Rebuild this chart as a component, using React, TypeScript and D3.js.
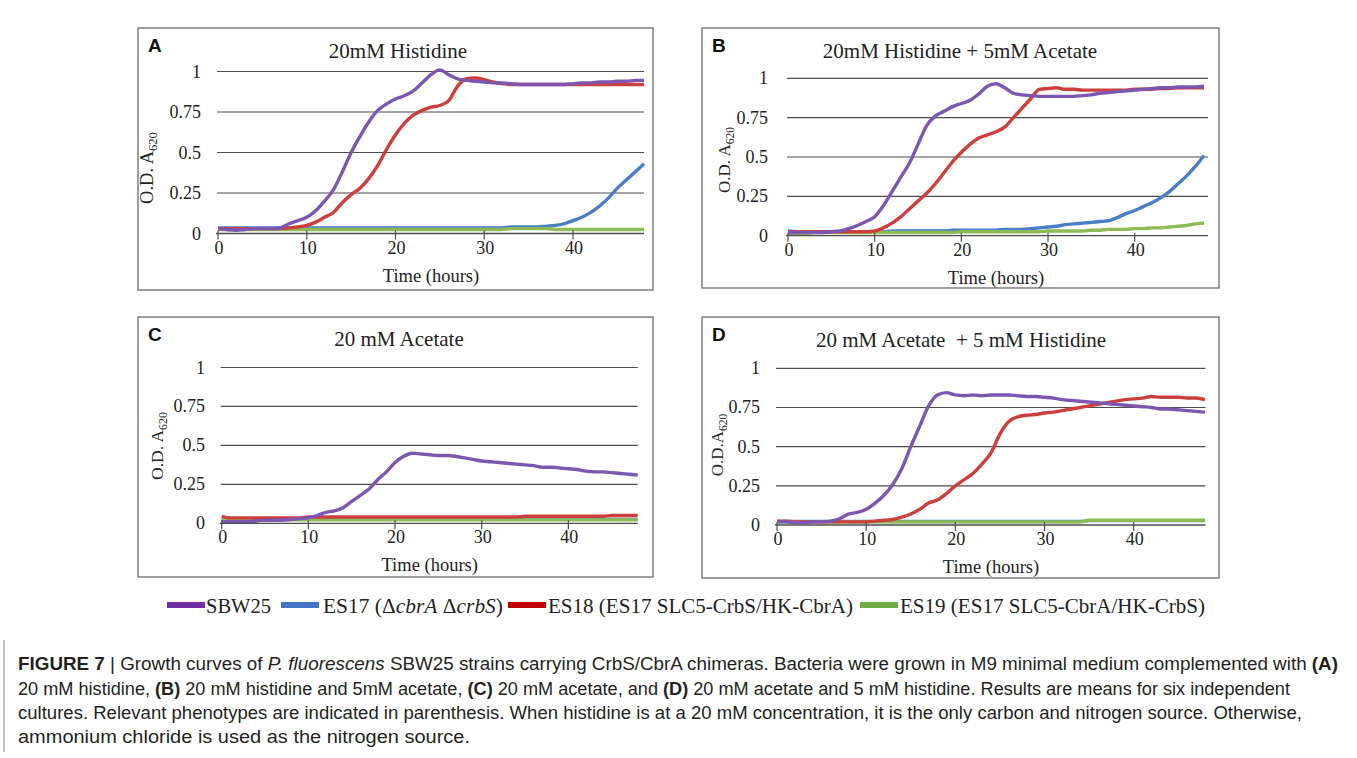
import React from 'react';
import * as d3 from 'd3';

// time axis (hours) shared by every panel
const hours = [
  0, 1, 2, 3, 4, 5, 6, 7, 8, 9,
  10, 11, 12, 13, 14, 15, 16, 17, 18, 19,
  20, 21, 22, 23, 24, 25, 26, 27, 28, 29,
  30, 31, 32, 33, 34, 35, 36, 37, 38, 39,
  40, 41, 42, 43, 44, 45, 46, 47, 48,
];
const yTicks = [0, 0.25, 0.5, 0.75, 1];
const xTicks = [0, 10, 20, 30, 40];

const drawOrder = ['ES17', 'ES19', 'ES18', 'SBW25'];
const lineColors: Record<string, string> = { SBW25: '#7b57b1', ES17: '#4a7fc7', ES18: '#cd3f3c', ES19: '#8dbb55' };
const legendColors: Record<string, string> = { SBW25: '#7030a0', ES17: '#4472c4', ES18: '#c00000', ES19: '#70ad47' };

// A: 20mM Histidine
const aSBW25 = [
  0.03, 0.025, 0.02, 0.025, 0.03, 0.03, 0.03, 0.035, 0.06, 0.08,
  0.10, 0.14, 0.20, 0.27, 0.38, 0.50, 0.60, 0.69, 0.76, 0.80,
  0.83, 0.85, 0.88, 0.93, 0.98, 1.01, 0.98, 0.955, 0.945, 0.94,
  0.935, 0.93, 0.93, 0.925, 0.92, 0.92, 0.92, 0.92, 0.92, 0.92,
  0.925, 0.93, 0.93, 0.935, 0.935, 0.94, 0.94, 0.945, 0.945,
];
const aES17 = [
  0.035, 0.035, 0.035, 0.035, 0.035, 0.035, 0.035, 0.035, 0.035, 0.035,
  0.035, 0.035, 0.035, 0.035, 0.035, 0.035, 0.035, 0.035, 0.035, 0.035,
  0.035, 0.035, 0.035, 0.035, 0.035, 0.035, 0.035, 0.035, 0.035, 0.035,
  0.035, 0.035, 0.035, 0.04, 0.04, 0.04, 0.04, 0.045, 0.05, 0.06,
  0.08, 0.10, 0.13, 0.17, 0.22, 0.28, 0.33, 0.38, 0.43,
];
const aES18 = [
  0.03, 0.03, 0.03, 0.03, 0.03, 0.03, 0.03, 0.03, 0.035, 0.04,
  0.05, 0.07, 0.10, 0.13, 0.19, 0.24, 0.28, 0.34, 0.42, 0.52,
  0.61, 0.68, 0.73, 0.76, 0.78, 0.79, 0.82, 0.91, 0.955, 0.96,
  0.95, 0.935, 0.925, 0.92, 0.92, 0.92, 0.92, 0.92, 0.92, 0.92,
  0.92, 0.92, 0.92, 0.92, 0.92, 0.92, 0.92, 0.92, 0.92,
];
const aES19 = [
  0.025, 0.025, 0.025, 0.025, 0.025, 0.025, 0.025, 0.025, 0.025, 0.025,
  0.025, 0.025, 0.025, 0.025, 0.025, 0.025, 0.025, 0.025, 0.025, 0.025,
  0.025, 0.025, 0.025, 0.025, 0.025, 0.025, 0.025, 0.025, 0.025, 0.025,
  0.025, 0.025, 0.025, 0.03, 0.03, 0.03, 0.03, 0.03, 0.025, 0.025,
  0.025, 0.025, 0.025, 0.025, 0.025, 0.025, 0.025, 0.025, 0.025,
];

// B: 20mM Histidine + 5mM Acetate
const bSBW25 = [
  0.02, 0.02, 0.02, 0.02, 0.02, 0.025, 0.03, 0.045, 0.065, 0.09,
  0.12, 0.19, 0.28, 0.37, 0.46, 0.58, 0.70, 0.76, 0.79, 0.82,
  0.84, 0.86, 0.90, 0.95, 0.965, 0.94, 0.905, 0.895, 0.89, 0.885,
  0.885, 0.885, 0.885, 0.885, 0.89, 0.895, 0.905, 0.91, 0.915, 0.92,
  0.925, 0.93, 0.935, 0.94, 0.94, 0.945, 0.945, 0.945, 0.95,
];
const bES17 = [
  0.03, 0.025, 0.025, 0.025, 0.025, 0.025, 0.025, 0.025, 0.025, 0.025,
  0.025, 0.025, 0.03, 0.03, 0.03, 0.03, 0.03, 0.03, 0.03, 0.035,
  0.035, 0.035, 0.035, 0.035, 0.035, 0.04, 0.04, 0.04, 0.045, 0.05,
  0.055, 0.06, 0.07, 0.075, 0.08, 0.085, 0.09, 0.095, 0.115, 0.14,
  0.16, 0.185, 0.21, 0.24, 0.28, 0.33, 0.38, 0.44, 0.51,
];
const bES18 = [
  0.025, 0.025, 0.025, 0.025, 0.025, 0.025, 0.025, 0.025, 0.025, 0.025,
  0.03, 0.05, 0.08, 0.12, 0.17, 0.22, 0.27, 0.33, 0.40, 0.47,
  0.53, 0.58, 0.62, 0.64, 0.66, 0.69, 0.75, 0.81, 0.87, 0.93,
  0.935, 0.94, 0.93, 0.93, 0.925, 0.925, 0.925, 0.925, 0.925, 0.925,
  0.93, 0.93, 0.93, 0.935, 0.935, 0.94, 0.94, 0.94, 0.94,
];
const bES19 = [
  0.015, 0.015, 0.015, 0.02, 0.02, 0.02, 0.02, 0.02, 0.02, 0.02,
  0.02, 0.02, 0.02, 0.02, 0.02, 0.02, 0.02, 0.02, 0.02, 0.02,
  0.025, 0.025, 0.025, 0.025, 0.025, 0.025, 0.025, 0.025, 0.025, 0.025,
  0.03, 0.03, 0.03, 0.03, 0.03, 0.035, 0.035, 0.04, 0.04, 0.04,
  0.045, 0.045, 0.05, 0.05, 0.055, 0.06, 0.065, 0.075, 0.08,
];

// C: 20 mM Acetate
const cSBW25 = [
  0.01, 0.01, 0.01, 0.01, 0.015, 0.02, 0.02, 0.02, 0.025, 0.03,
  0.035, 0.05, 0.07, 0.08, 0.10, 0.14, 0.18, 0.22, 0.28, 0.33,
  0.39, 0.43, 0.45, 0.445, 0.44, 0.435, 0.435, 0.43, 0.42, 0.41,
  0.40, 0.395, 0.39, 0.385, 0.38, 0.375, 0.37, 0.36, 0.36, 0.355,
  0.35, 0.345, 0.335, 0.33, 0.33, 0.325, 0.32, 0.315, 0.31,
];
const cES17 = [
  0.025, 0.025, 0.025, 0.025, 0.025, 0.025, 0.025, 0.025, 0.025, 0.025,
  0.025, 0.025, 0.025, 0.025, 0.025, 0.025, 0.025, 0.025, 0.025, 0.025,
  0.025, 0.025, 0.025, 0.025, 0.025, 0.025, 0.025, 0.025, 0.025, 0.025,
  0.025, 0.025, 0.025, 0.025, 0.025, 0.025, 0.025, 0.025, 0.025, 0.025,
  0.025, 0.025, 0.025, 0.025, 0.025, 0.025, 0.025, 0.025, 0.025,
];
const cES18 = [
  0.045, 0.035, 0.035, 0.035, 0.035, 0.035, 0.035, 0.035, 0.035, 0.035,
  0.04, 0.04, 0.04, 0.04, 0.04, 0.04, 0.04, 0.04, 0.04, 0.04,
  0.04, 0.04, 0.04, 0.04, 0.04, 0.04, 0.04, 0.04, 0.04, 0.04,
  0.04, 0.04, 0.04, 0.04, 0.04, 0.045, 0.045, 0.045, 0.045, 0.045,
  0.045, 0.045, 0.045, 0.045, 0.045, 0.05, 0.05, 0.05, 0.05,
];
const cES19 = [
  0.022, 0.022, 0.022, 0.022, 0.022, 0.022, 0.022, 0.022, 0.022, 0.022,
  0.022, 0.022, 0.022, 0.022, 0.022, 0.022, 0.022, 0.022, 0.022, 0.022,
  0.022, 0.022, 0.022, 0.022, 0.022, 0.022, 0.022, 0.022, 0.022, 0.022,
  0.022, 0.022, 0.022, 0.022, 0.022, 0.022, 0.022, 0.022, 0.022, 0.022,
  0.022, 0.022, 0.022, 0.022, 0.022, 0.022, 0.022, 0.022, 0.022,
];

// D: 20 mM Acetate + 5 mM Histidine
const dSBW25 = [
  0.02, 0.02, 0.015, 0.015, 0.02, 0.02, 0.025, 0.04, 0.07, 0.08,
  0.10, 0.14, 0.19, 0.26, 0.36, 0.50, 0.63, 0.76, 0.83, 0.845,
  0.83, 0.825, 0.83, 0.825, 0.83, 0.83, 0.83, 0.825, 0.82, 0.82,
  0.815, 0.81, 0.80, 0.795, 0.79, 0.785, 0.78, 0.775, 0.77, 0.765,
  0.76, 0.755, 0.75, 0.74, 0.74, 0.735, 0.73, 0.725, 0.72,
];
const dES17 = [
  0.022, 0.022, 0.022, 0.022, 0.022, 0.022, 0.022, 0.022, 0.022, 0.022,
  0.022, 0.022, 0.022, 0.022, 0.022, 0.022, 0.022, 0.022, 0.022, 0.022,
  0.022, 0.022, 0.022, 0.022, 0.022, 0.022, 0.022, 0.022, 0.022, 0.022,
  0.022, 0.022, 0.022, 0.022, 0.022, 0.028, 0.028, 0.028, 0.028, 0.028,
  0.028, 0.028, 0.028, 0.028, 0.028, 0.028, 0.028, 0.028, 0.028,
];
const dES18 = [
  0.025, 0.025, 0.02, 0.02, 0.02, 0.02, 0.02, 0.02, 0.02, 0.02,
  0.02, 0.025, 0.03, 0.035, 0.05, 0.07, 0.10, 0.14, 0.16, 0.20,
  0.25, 0.29, 0.33, 0.39, 0.46, 0.58, 0.66, 0.69, 0.70, 0.705,
  0.715, 0.72, 0.73, 0.74, 0.75, 0.76, 0.77, 0.78, 0.79, 0.80,
  0.805, 0.81, 0.82, 0.815, 0.815, 0.815, 0.81, 0.81, 0.80,
];
const dES19 = [
  0.02, 0.02, 0.02, 0.02, 0.02, 0.02, 0.02, 0.02, 0.02, 0.02,
  0.02, 0.02, 0.02, 0.02, 0.02, 0.02, 0.02, 0.02, 0.02, 0.02,
  0.02, 0.02, 0.02, 0.02, 0.02, 0.02, 0.02, 0.02, 0.02, 0.02,
  0.02, 0.02, 0.02, 0.02, 0.02, 0.03, 0.03, 0.03, 0.03, 0.03,
  0.03, 0.03, 0.03, 0.03, 0.03, 0.03, 0.03, 0.03, 0.03,
];

// panel layout (pixels)
const panels = [
  {
    letter: 'A', title: '20mM Histidine', yTitle: 'O.D. A',
    series: { SBW25: aSBW25, ES17: aES17, ES18: aES18, ES19: aES19 },
    box: [138, 28, 653, 290], x0: 218, x1: 644, gridEnd: 644, yTop: 71.5, yBot: 233.5,
    titleX: 398, titleY: 58, labelRight: 201,
    yTitleX: 153, yTitleY: 168, yTitleSize: 18.5,
  },
  {
    letter: 'B', title: '20mM Histidine + 5mM Acetate', yTitle: 'O.D. A',
    series: { SBW25: bSBW25, ES17: bES17, ES18: bES18, ES19: bES19 },
    box: [702, 28, 1219, 288], x0: 788, x1: 1204, gridEnd: 1208, yTop: 78.3, yBot: 235.7,
    titleX: 960, titleY: 58, labelRight: 768,
    yTitleX: 730, yTitleY: 160, yTitleSize: 17,
  },
  {
    letter: 'C', title: '20 mM Acetate', yTitle: 'O.D. A',
    series: { SBW25: cSBW25, ES17: cES17, ES18: cES18, ES19: cES19 },
    box: [138, 317, 653, 577], x0: 221.7, x1: 637.7, gridEnd: 637.7, yTop: 367.5, yBot: 523.3,
    titleX: 399, titleY: 346, labelRight: 205,
    yTitleX: 163, yTitleY: 446, yTitleSize: 17.5,
  },
  {
    letter: 'D', title: '20 mM Acetate  + 5 mM Histidine', yTitle: 'O.D.A',
    series: { SBW25: dSBW25, ES17: dES17, ES18: dES18, ES19: dES19 },
    box: [702, 317, 1219, 578], x0: 777, x1: 1205, gridEnd: 1205.5, yTop: 368.3, yBot: 525,
    titleX: 961, titleY: 347, labelRight: 760,
    yTitleX: 723, yTitleY: 445, yTitleSize: 17,
  },
];

const serif = '"Liberation Serif", "Times New Roman", serif';
const sans = '"Liberation Sans", Arial, sans-serif';
const narrow = '"Liberation Sans Narrow", "Arial Narrow", "Liberation Sans", Arial, sans-serif';
const ink = '#222';

function Panel({ p }: { p: any }) {
  const x = d3.scaleLinear().domain([0, 48]).range([p.x0, p.x1]);
  const y = d3.scaleLinear().domain([0, 1]).range([p.yBot, p.yTop]);
  const line = d3.line<number>()
    .x((d, i) => x(hours[i]))
    .y((d) => y(d))
    .curve(d3.curveMonotoneX);
  const [bx0, by0, bx1, by1] = p.box;
  return (
    <g>
      <rect x={bx0} y={by0} width={bx1 - bx0} height={by1 - by0} fill="#fff" stroke="#6b6b6b" strokeWidth={1.3} />
      <text x={bx0 + 10} y={by0 + 24} fontFamily={sans} fontWeight="bold" fontSize={19} fill="#111">{p.letter}</text>
      <text x={p.titleX} y={p.titleY} textAnchor="middle" fontFamily={serif} fontSize={21} fill={ink} style={{ whiteSpace: 'pre' }}>{p.title}</text>
      {yTicks.map((t) => (
        <g key={t}>
          {t > 0 && <line x1={p.x0 - 1} x2={p.gridEnd} y1={y(t)} y2={y(t)} stroke="#4d4d4d" strokeWidth={1.2} />}
          <text x={p.labelRight} y={y(t) + 6} textAnchor="end" fontFamily={serif} fontSize={18} fill={ink}>{t}</text>
        </g>
      ))}
      {drawOrder.map((s) => (
        <path key={s} d={line(p.series[s]) || ''} fill="none" stroke={lineColors[s]} strokeWidth={3.4} strokeLinejoin="round" />
      ))}
      <line x1={p.x0 - 2} x2={p.gridEnd} y1={y(0)} y2={y(0)} stroke="#4d4d4d" strokeWidth={1.3} />
      {xTicks.map((t) => (
        <g key={t}>
          <line x1={x(t)} x2={x(t)} y1={y(0) - 3} y2={y(0) + 6} stroke="#4d4d4d" strokeWidth={1.2} />
          <text x={x(t) + 1} y={y(0) + 20} textAnchor="middle" fontFamily={serif} fontSize={18} fill={ink}>{t}</text>
        </g>
      ))}
      <text x={(p.x0 + p.x1) / 2} y={y(0) + 48} textAnchor="middle" fontFamily={serif} fontSize={18.5} fill={ink}>Time (hours)</text>
      <text transform={`translate(${p.yTitleX},${p.yTitleY}) rotate(-90)`} textAnchor="middle" fontFamily={serif} fontSize={p.yTitleSize} fill={ink}>
        {p.yTitle}<tspan fontSize={p.yTitleSize * 0.68} dy={4}>620</tspan>
      </text>
    </g>
  );
}

const legendItems = [
  { key: 'SBW25', sx: 167, tx: 206, tw: 65 },
  { key: 'ES17', sx: 281, tx: 323, tw: 180 },
  { key: 'ES18', sx: 508, tx: 548, tw: 305 },
  { key: 'ES19', sx: 860, tx: 900, tw: 305 },
];

function LegendLabel({ k }: { k: string }) {
  if (k === 'SBW25') return <>SBW25</>;
  if (k === 'ES17') return <>ES17 (Δ<tspan fontStyle="italic">cbrA</tspan> Δ<tspan fontStyle="italic">crbS</tspan>)</>;
  if (k === 'ES18') return <>ES18 (ES17 SLC5-CrbS/HK-CbrA)</>;
  return <>ES19 (ES17 SLC5-CbrA/HK-CrbS)</>;
}

const captionLines = [
  { w: 1320, y: 670 },
  { w: 1272, y: 695 },
  { w: 1284, y: 719 },
  { w: 452, y: 743 },
];

export default function App() {
  return (
    <div style={{ position: 'fixed', left: 0, top: 0 }}>
      <svg width={1357} height={758} style={{ display: 'block', background: '#fff' }}>
        {panels.map((p) => <Panel key={p.letter} p={p} />)}

        {legendItems.map((it) => (
          <g key={it.key}>
            <rect x={it.sx} y={602} width={38} height={6} fill={legendColors[it.key]} />
            <text x={it.tx} y={613} fontFamily={serif} fontSize={21} fill={ink} textLength={it.tw} lengthAdjust="spacingAndGlyphs">
              <LegendLabel k={it.key} />
            </text>
          </g>
        ))}

        <line x1={4} x2={4} y1={640} y2={752} stroke="#9a9a9a" strokeWidth={1.2} />
        <g fontFamily={narrow} fontSize={17.5} fill="#231f20">
          <text x={18} y={captionLines[0].y} textLength={captionLines[0].w} lengthAdjust="spacingAndGlyphs">
            <tspan fontWeight="bold">FIGURE 7</tspan> | Growth curves of <tspan fontStyle="italic">P. fluorescens</tspan> SBW25 strains carrying CrbS/CbrA chimeras. Bacteria were grown in M9 minimal medium complemented with <tspan fontWeight="bold">(A)</tspan>
          </text>
          <text x={18} y={captionLines[1].y} textLength={captionLines[1].w} lengthAdjust="spacingAndGlyphs">
            20 mM histidine, <tspan fontWeight="bold">(B)</tspan> 20 mM histidine and 5mM acetate, <tspan fontWeight="bold">(C)</tspan> 20 mM acetate, and <tspan fontWeight="bold">(D)</tspan> 20 mM acetate and 5 mM histidine. Results are means for six independent
          </text>
          <text x={18} y={captionLines[2].y} textLength={captionLines[2].w} lengthAdjust="spacingAndGlyphs">
            cultures. Relevant phenotypes are indicated in parenthesis. When histidine is at a 20 mM concentration, it is the only carbon and nitrogen source. Otherwise,
          </text>
          <text x={18} y={captionLines[3].y} textLength={captionLines[3].w} lengthAdjust="spacingAndGlyphs">
            ammonium chloride is used as the nitrogen source.
          </text>
        </g>
      </svg>
    </div>
  );
}
